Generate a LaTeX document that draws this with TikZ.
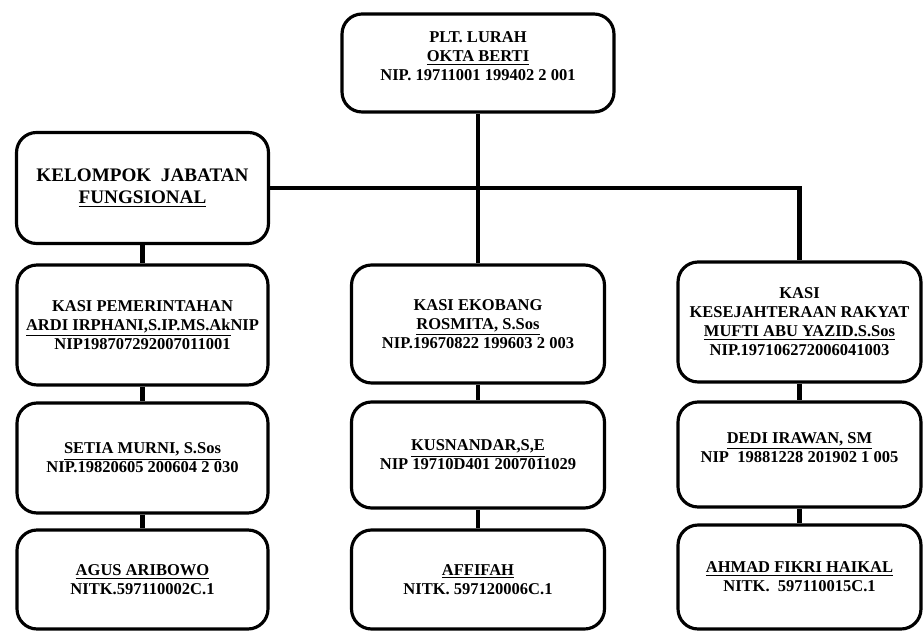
\documentclass[tikz,border=0pt]{standalone}
\usepackage{fontspec}
\setmainfont{Liberation Serif}
\usetikzlibrary{positioning}

\tikzset{
    box/.style={draw, rounded corners=0.4cm, line width=1.8pt, align=center,
        inner sep=0pt, font=\fontsize{9.4}{10.8}\selectfont\bfseries},
    conn/.style={line width=2.7pt}
}

\begin{document}
\begin{tikzpicture}[x=0.02cm, y=-0.02cm]
        \useasboundingbox (0,0) rectangle (923,631); % page size as in the scan

        % Head
        \node[box, minimum width=5.44cm, minimum height=1.96cm] (lurah) at (478,63)
            {PLT. LURAH\\\underline{OKTA BERTI}\\NIP. 19711001 199402 2 001\\[-3pt]};

        % Functional group
        \node[box, minimum width=5.04cm, minimum height=2.22cm,
            font=\fontsize{10.9}{13}\selectfont\bfseries] (kjf) at (142.5,188)
            {KELOMPOK\ \ JABATAN\\\underline{FUNGSIONAL}};

        % Left column
        \node[box, minimum width=5.02cm, minimum height=2.40cm] (L1) at (142.5,325)
            {KASI PEMERINTAHAN\\\underline{ARDI IRPHANI,S.IP.MS.Ak}NIP\\NIP198707292007011001};
        \node[box, minimum width=5.02cm, minimum height=2.20cm] (L2) at (142.5,458)
            {\underline{SETIA MURNI, S.Sos}\\NIP.19820605 200604 2 030};
        \node[box, minimum width=5.02cm, minimum height=1.98cm] (L3) at (142.5,579.5)
            {\underline{AGUS ARIBOWO}\\NITK.597110002C.1};

        % Middle column
        \node[box, minimum width=5.06cm, minimum height=2.36cm] (M1) at (478,324)
            {KASI EKOBANG\\\underline{ROSMITA, S.Sos}\\NIP.19670822 199603 2 003};
        \node[box, minimum width=5.06cm, minimum height=2.12cm] (M2) at (478,455)
            {\underline{KUSNANDAR,S,E}\\NIP 19710D401 2007011029};
        \node[box, minimum width=5.06cm, minimum height=1.98cm] (M3) at (478,579.5)
            {\underline{AFFIFAH}\\NITK. 597120006C.1};

        % Right column
        \node[box, minimum width=4.86cm, minimum height=2.40cm] (R1) at (799.5,322)
            {KASI\\KESEJAHTERAAN RAKYAT\\\underline{MUFTI ABU YAZID.S.Sos}\\NIP.197106272006041003};
        \node[box, minimum width=4.86cm, minimum height=2.10cm] (R2) at (799.5,454.5)
            {\underline{DEDI IRAWAN, SM}\\NIP\ \ 19881228 201902 1 005\\[-3pt]};
        \node[box, minimum width=4.86cm, minimum height=2.08cm] (R3) at (799.5,577)
            {\underline{AHMAD FIKRI HAIKAL}\\NITK.\ \ 597110015C.1};

        % Connectors
        \draw[conn] (lurah) -- (M1); % head to middle column
        \draw[conn] (kjf.east) -| (R1.north); % branch line
        \draw[conn] (kjf) -- (L1);
        \foreach \c in {L,M,R} {
            \draw[conn] (\c1) -- (\c2);
            \draw[conn] (\c2) -- (\c3);
        }
    \end{tikzpicture}
\end{document}
